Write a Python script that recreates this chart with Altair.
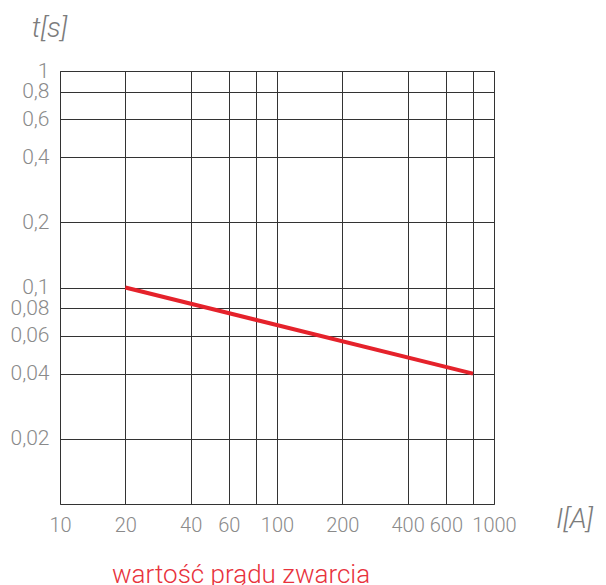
import altair as alt
import pandas as pd

# data
current_A = [20, 800]
time_s = [0.1, 0.04]

x_grid_values = [10, 20, 40, 60, 80, 100, 200, 400, 600, 800, 1000]
x_unlabeled = [80, 800]
y_grid_values = [0.02, 0.04, 0.06, 0.08, 0.1, 0.2, 0.4, 0.6, 0.8, 1]

x_title = "I[A]"
y_title = "t[s]"
caption = ["wartość prądu zwarcia"]

df = pd.DataFrame({"I": current_A, "t": time_s})
cap_df = pd.DataFrame({"txt": caption})

label_font = "Roboto, Liberation Sans, sans-serif"
title_font = "Roboto, Liberation Sans, sans-serif"
grid_col = "#333333"
label_col = "#8a8a8a"
title_col = "#7c7c7c"

hide_expr = " || ".join(f"datum.value == {v}" for v in x_unlabeled)

x_enc = alt.X(
    "I:Q",
    scale=alt.Scale(type="log", domain=[10, 1000], nice=False),
    axis=alt.Axis(
        values=x_grid_values, format="d", title=x_title,
        labelExpr=f"({hide_expr}) ? '' : datum.label",
        grid=True, gridColor=grid_col, gridOpacity=1, gridWidth=1,
        ticks=False, domain=False, labelOverlap=False, labelFlush=False,
        labelFont=label_font, labelFontSize=20, labelFontWeight=300,
        labelColor=label_col, labelPadding=11,
        titleFont=title_font, titleFontSize=28, titleFontStyle="italic",
        titleFontWeight=300, titleColor=title_col,
        titleX=514, titleY=23, titleAlign="center", titleBaseline="alphabetic",
    ),
)
y_enc = alt.Y(
    "t:Q",
    scale=alt.Scale(type="log", domain=[0.01, 1], nice=False),
    axis=alt.Axis(
        values=y_grid_values, format="~g", title=y_title,
        labelExpr="replace(datum.label, '.', ',')",
        grid=True, gridColor=grid_col, gridOpacity=1, gridWidth=1,
        ticks=False, domain=False, labelOverlap=False, labelFlush=False,
        labelFont=label_font, labelFontSize=21, labelFontWeight=300,
        labelColor=label_col, labelPadding=11, labelBaseline="middle",
        titleFont=title_font, titleFontSize=28, titleFontStyle="italic",
        titleFontWeight=300, titleColor=title_col, titleAngle=0,
        titleX=-11, titleY=-35, titleAlign="center", titleBaseline="alphabetic",
    ),
)

line = alt.Chart(df).mark_line(color="#e5222b", strokeWidth=4).encode(x=x_enc, y=y_enc)

cap = alt.Chart(cap_df).mark_text(
    color="#e8323c", font=title_font, fontSize=26, fontWeight=300,
    align="left", baseline="alphabetic"
).encode(text="txt:N", x=alt.value(52), y=alt.value(512))

chart = (
    alt.layer(line, cap)
    .properties(
        width=434, height=433,
        autosize=alt.AutoSizeParams(type="none"),
        padding={"left": 52, "top": 63, "right": 104, "bottom": 82},
    )
    .configure_view(stroke=grid_col, strokeWidth=1)
)

chart.save("out.html", embed_options={"renderer": "svg", "actions": False})
